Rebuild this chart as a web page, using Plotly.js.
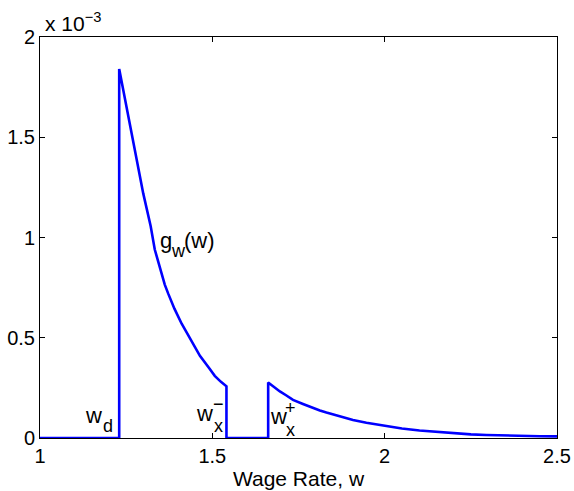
<!DOCTYPE html>
<html>
<head>
<meta charset="utf-8">
<script src="https://cdn.plot.ly/plotly-3.0.1.min.js"></script>
<style>html,body{margin:0;padding:0;background:#fff;}</style>
</head>
<body>
<div id="chart" style="width:574px;height:491px;"></div>
<script>
// Wage rate w
var wage = [1.0, 1.2298, 1.2298, 1.2397, 1.261, 1.280, 1.2995, 1.321, 1.333, 1.343, 1.362, 1.372, 1.39, 1.411, 1.435, 1.464, 1.49, 1.507, 1.525, 1.541,
            1.541, 1.662,
            1.662, 1.68, 1.696, 1.715, 1.734, 1.763, 1.783, 1.812, 1.831, 1.86, 1.889, 1.908, 1.947, 2.005, 2.05, 2.101, 2.15, 2.198, 2.25, 2.295, 2.35, 2.391, 2.45, 2.5];
// density g_w(w), in units of 10^-3
var density = [0, 0, 1.84, 1.75, 1.557, 1.39, 1.22, 1.057, 0.94, 0.88, 0.765, 0.72, 0.645, 0.57, 0.495, 0.41, 0.35, 0.31, 0.28, 0.258,
               0, 0,
               0.277, 0.252, 0.232, 0.212, 0.19, 0.17, 0.155, 0.137, 0.127, 0.112, 0.098, 0.09, 0.076, 0.058, 0.047, 0.037, 0.03, 0.023, 0.018, 0.015, 0.012, 0.01, 0.009, 0.008];
var xTicks = [1, 1.5, 2, 2.5];
var xTickText = ['1', '1.5', '2', '2.5'];
var yTicks = [0, 0.5, 1, 1.5, 2];
var yTickText = ['0', '0.5', '1', '1.5', '2'];
var xTitle = 'Wage Rate, w';
var exponentText = 'x 10<sup>\u22123</sup>';

var FONT = 'Liberation Sans, Arial, Helvetica, sans-serif';
var TICK_FS = 20;
var LBL_FS = 22;
var SUB_FS = 18;

function ann(x, y, text, size) {
  return {x: x, y: y, text: text, showarrow: false, xanchor: 'center', yanchor: 'middle',
          borderpad: 0, font: {family: FONT, size: size, color: '#000'}};
}

var trace = {
  x: wage, y: density, type: 'scatter', mode: 'lines',
  line: {color: '#0000ff', width: 2.6},
  hoverinfo: 'skip'
};

var layout = {
  width: 574, height: 491,
  margin: {l: 40, r: 17, t: 37, b: 53, pad: 0},
  paper_bgcolor: '#fff', plot_bgcolor: '#fff',
  showlegend: false,
  font: {family: FONT, size: TICK_FS, color: '#000'},
  xaxis: {
    range: [1, 2.5], tickvals: xTicks, ticktext: xTickText,
    ticks: 'inside', ticklen: 5, tickcolor: '#000', mirror: 'allticks',
    showline: true, linecolor: '#000', linewidth: 1,
    showgrid: false, zeroline: false,
    tickfont: {family: FONT, size: TICK_FS, color: '#000'},
    title: {text: xTitle, font: {family: FONT, size: 21, color: '#000'}, standoff: 5}
  },
  yaxis: {
    range: [0, 2], tickvals: yTicks, ticktext: yTickText,
    ticks: 'inside', ticklen: 5, tickcolor: '#000', mirror: 'allticks',
    showline: true, linecolor: '#000', linewidth: 1,
    showgrid: false, zeroline: false,
    tickfont: {family: FONT, size: TICK_FS, color: '#000'}
  },
  annotations: [
    {xref: 'paper', yref: 'paper', x: 0.006, y: 1, xanchor: 'left', yanchor: 'bottom', yshift: 0,
     text: exponentText, showarrow: false, font: {family: FONT, size: 21, color: '#000'}},
    // w_d
    ann(1.1565, 0.11, 'w', LBL_FS),
    ann(1.197, 0.06, 'd', SUB_FS),
    // g_w(w)
    ann(1.367, 0.985, 'g', LBL_FS),
    ann(1.4014, 0.935, 'w', SUB_FS),
    ann(1.4638, 0.985, '(w)', LBL_FS),
    // w_x^-
    ann(1.478, 0.12, 'w', LBL_FS),
    ann(1.518, 0.168, '\u2212', SUB_FS),
    ann(1.517, 0.058, 'x', SUB_FS),
    // w_x^+
    ann(1.691, 0.108, 'w', LBL_FS),
    ann(1.7267, 0.152, '+', SUB_FS),
    ann(1.727, 0.042, 'x', SUB_FS)
  ]
};

Plotly.newPlot('chart', [trace], layout, {displayModeBar: false, staticPlot: true});
</script>
</body>
</html>
